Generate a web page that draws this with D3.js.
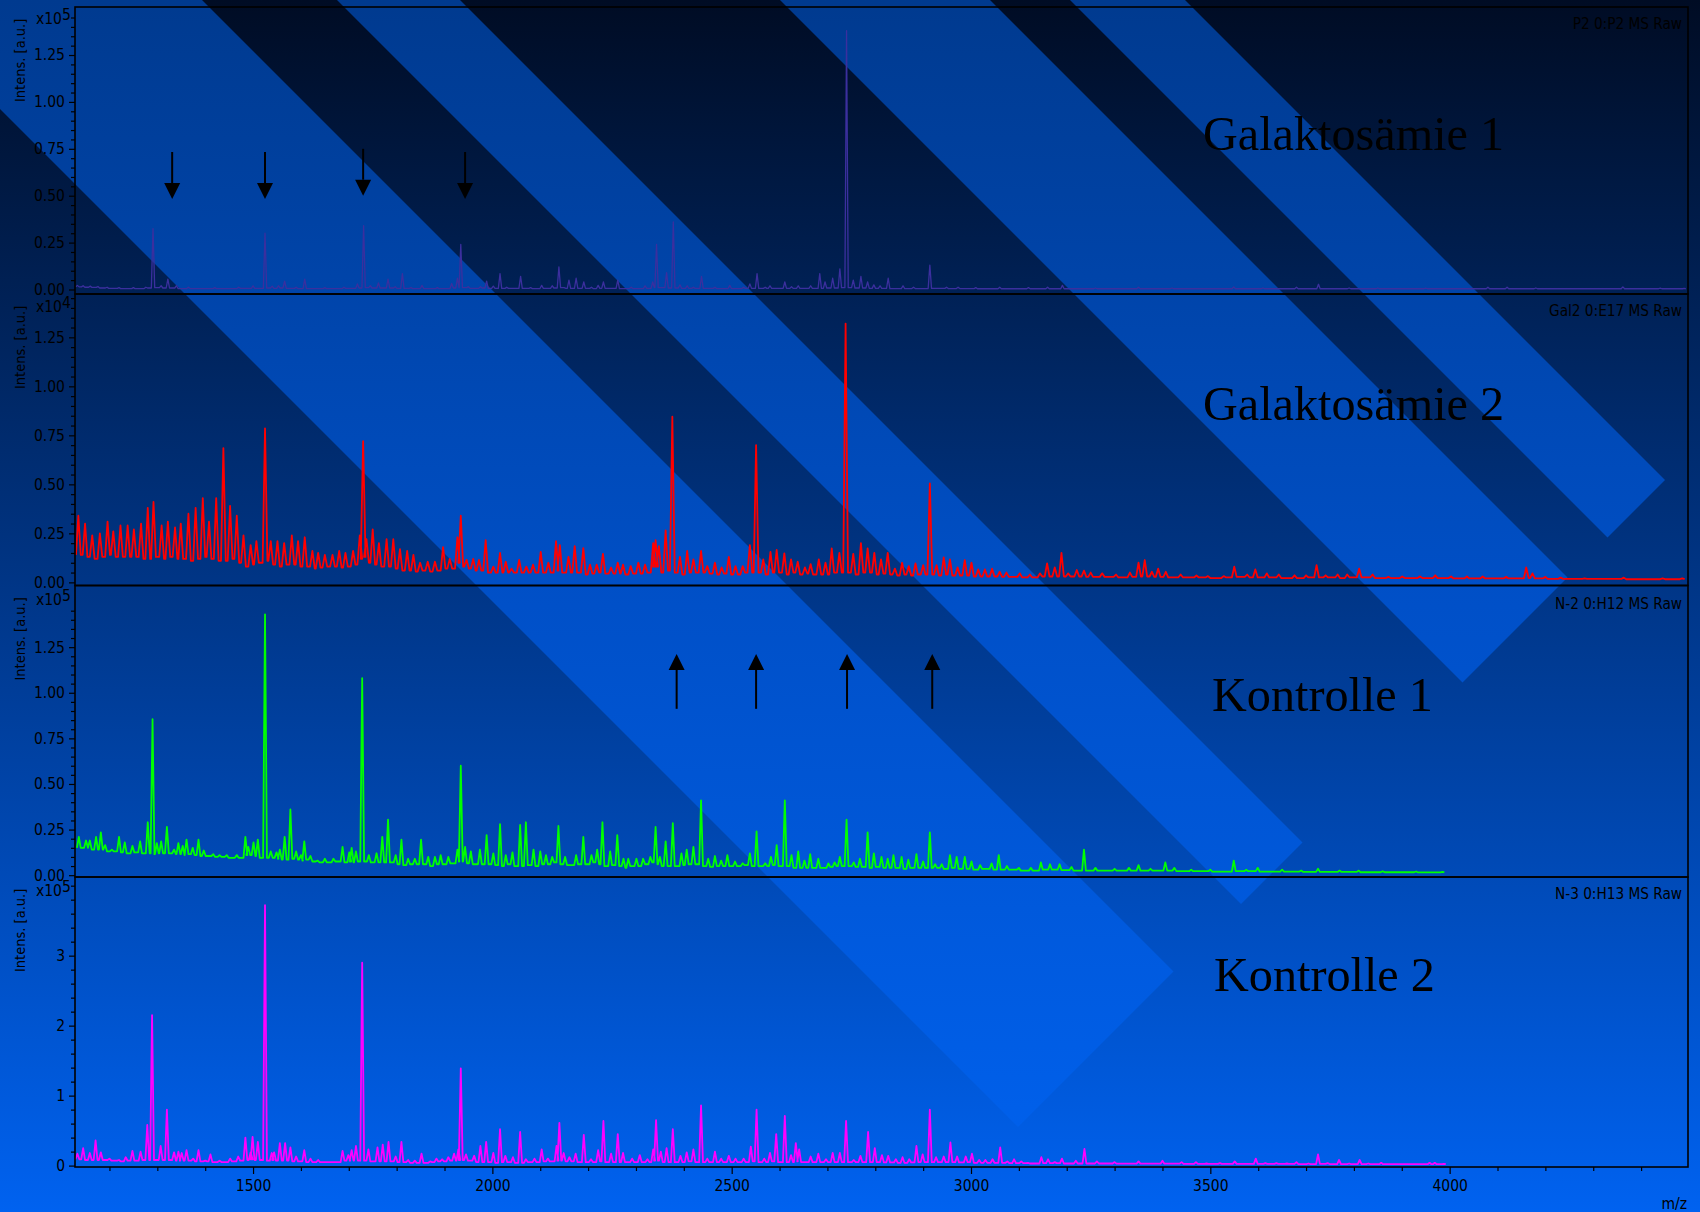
<!DOCTYPE html>
<html>
<head>
<meta charset="utf-8">
<script src="https://cdn.jsdelivr.net/npm/d3@7"></script>
<style>
  html, body { margin: 0; padding: 0; background: #0062f0; overflow: hidden; }
  svg { display: block; }
  text { font-family: "DejaVu Sans", sans-serif; font-stretch: condensed; fill: #000; }
  .big { font-family: "Liberation Serif", serif; font-stretch: normal; font-size: 48.2px; }
</style>
</head>
<body>
<div id="chart"></div>
<script>
// spectra: [m/z, peak top, floor after the peak], intensities in axis units
const gal1Peaks = [
  [1133,.022,.014],[1145,.02,.012],[1160,.018,.011],[1176,.016,.008],[1195,.012,.006],[1220,.01,.005],[1250,.01,.005],
  [1276,.012,.008],[1291,.325,.01],[1308,.02,.008],[1322,.055,.008],[1340,.02,.005],[1365,.012,.005],[1420,.01,.005],
  [1470,.012,.006],[1500,.02,.006],[1525,.3,.008],[1540,.018,.006],[1553,.02,.008],[1566,.045,.006],[1590,.012,.005],
  [1608,.055,.005],[1650,.01,.005],[1690,.012,.006],[1718,.03,.008],[1731,.34,.01],[1745,.02,.008],[1762,.035,.008],
  [1782,.055,.008],[1797,.015,.006],[1812,.085,.006],[1830,.01,.005],[1853,.022,.005],[1885,.01,.005],[1915,.032,.008],
  [1927,.06,.01],[1934,.24,.01],[1950,.015,.006],[1975,.015,.008],[1988,.045,.006],[2002,.018,.006],[2016,.085,.006],
  [2030,.012,.006],[2059,.07,.006],[2080,.01,.005],[2103,.022,.006],[2125,.02,.008],[2139,.12,.01],[2150,.01,.006],
  [2160,.05,.006],[2175,.06,.006],[2191,.04,.006],[2207,.012,.005],[2221,.022,.006],[2232,.04,.006],[2262,.05,.005],
  [2290,.012,.005],[2319,.02,.006],[2335,.04,.01],[2343,.24,.01],[2364,.09,.008],[2378,.36,.008],[2392,.025,.006],
  [2407,.02,.006],[2420,.012,.006],[2437,.07,.006],[2465,.012,.005],[2496,.022,.005],[2525,.012,.006],[2538,.03,.006],
  [2553,.085,.006],[2570,.012,.006],[2580,.02,.006],[2611,.04,.006],[2625,.015,.006],[2639,.02,.006],[2665,.02,.006],
  [2684,.085,.006],[2695,.04,.008],[2711,.06,.008],[2726,.11,.01],[2740,1.38,.01],[2754,.05,.008],[2770,.07,.008],
  [2784,.04,.006],[2797,.025,.006],[2810,.02,.006],[2827,.06,.005],[2858,.02,.005],[2880,.012,.005],[2914,.13,.006],
  [2949,.012,.005],[2973,.012,.005],[3010,.01,.004],[3060,.012,.004],[3120,.01,.004],[3160,.012,.004],[3191,.022,.004],
  [3260,.008,.004],[3350,.012,.004],[3420,.008,.004],[3549,.014,.004],[3610,.008,.004],[3680,.012,.004],[3726,.028,.004],
  [3790,.008,.004],[3850,.008,.004],[3950,.007,.004],[4080,.012,.004],[4120,.012,.004],[4180,.008,.004],[4362,.014,.004],
  [4440,.007,.004],[4490,.006,.004]
];
const gal2Peaks = [
  [1135,.34,.14],[1149,.30,.13],[1164,.24,.12],[1180,.25,.13],[1196,.31,.14],[1208,.26,.13],[1223,.29,.13],[1238,.29,.13],
  [1251,.27,.13],[1266,.30,.12],[1280,.38,.12],[1292,.41,.13],[1309,.29,.12],[1322,.31,.13],[1337,.28,.12],[1349,.30,.12],
  [1365,.35,.11],[1380,.38,.12],[1395,.43,.13],[1408,.31,.12],[1423,.43,.11],[1438,.685,.11],[1452,.39,.12],[1466,.34,.10],
  [1480,.24,.08],[1495,.19,.09],[1507,.21,.10],[1525,.785,.11],[1537,.21,.09],[1551,.21,.08],[1565,.20,.09],[1581,.24,.09],
  [1594,.21,.08],[1608,.23,.08],[1624,.16,.07],[1636,.15,.075],[1650,.14,.08],[1666,.14,.08],[1680,.16,.075],[1693,.15,.08],
  [1709,.16,.09],[1723,.24,.12],[1730,.72,.13],[1737,.22,.10],[1750,.27,.09],[1763,.20,.08],[1779,.22,.08],[1793,.22,.07],
  [1807,.17,.06],[1822,.16,.06],[1835,.14,.055],[1849,.10,.06],[1865,.105,.055],[1880,.105,.06],[1897,.18,.07],[1911,.12,.07],
  [1927,.23,.10],[1934,.34,.08],[1946,.115,.07],[1960,.12,.06],[1972,.115,.06],[1986,.215,.05],[2002,.08,.05],[2016,.15,.05],
  [2028,.105,.05],[2040,.07,.05],[2056,.115,.05],[2071,.08,.05],[2085,.09,.05],[2101,.155,.05],[2117,.10,.05],[2133,.21,.06],
  [2141,.19,.05],[2159,.13,.05],[2172,.185,.05],[2190,.175,.04],[2204,.09,.045],[2218,.09,.05],[2231,.145,.045],[2248,.076,.045],
  [2262,.10,.045],[2273,.09,.04],[2289,.083,.045],[2305,.10,.045],[2319,.09,.05],[2336,.20,.08],[2341,.215,.08],[2348,.185,.05],
  [2362,.265,.06],[2376,.845,.05],[2392,.13,.04],[2407,.16,.05],[2420,.117,.05],[2436,.16,.05],[2449,.083,.045],[2465,.10,.04],
  [2479,.076,.045],[2494,.13,.04],[2508,.083,.04],[2523,.083,.05],[2538,.19,.05],[2551,.70,.05],[2566,.117,.04],[2581,.156,.05],
  [2594,.165,.05],[2610,.148,.04],[2624,.117,.05],[2638,.105,.04],[2653,.076,.045],[2665,.093,.04],[2682,.117,.04],[2696,.10,.04],
  [2709,.173,.05],[2725,.15,.05],[2738,1.32,.05],[2754,.145,.04],[2770,.20,.05],[2784,.173,.05],[2798,.15,.04],[2812,.117,.045],
  [2826,.15,.04],[2841,.07,.035],[2856,.10,.04],[2870,.083,.035],[2884,.097,.04],[2900,.088,.04],[2914,.505,.04],[2928,.088,.035],
  [2943,.127,.04],[2956,.117,.035],[2972,.076,.035],[2987,.114,.035],[3001,.10,.03],[3015,.066,.03],[3029,.066,.03],[3044,.07,.03],
  [3060,.054,.028],[3074,.05,.028],[3102,.046,.025],[3123,.04,.025],[3144,.046,.03],[3159,.097,.03],[3175,.076,.03],[3189,.15,.03],
  [3203,.046,.03],[3221,.063,.03],[3236,.06,.028],[3250,.05,.028],[3274,.046,.028],[3303,.04,.025],[3332,.05,.028],[3350,.10,.03],
  [3363,.114,.03],[3378,.054,.028],[3391,.07,.028],[3407,.054,.025],[3438,.04,.025],[3471,.035,.025],[3495,.032,.022],[3528,.032,.025],
  [3550,.08,.028],[3577,.04,.025],[3594,.066,.025],[3618,.046,.025],[3643,.04,.022],[3676,.036,.022],[3700,.036,.025],[3722,.088,.025],
  [3741,.036,.025],[3766,.04,.022],[3786,.04,.025],[3811,.07,.025],[3839,.04,.022],[3872,.028,.022],[3901,.03,.022],[3938,.03,.022],
  [3970,.036,.022],[4003,.03,.02],[4036,.03,.02],[4069,.03,.02],[4118,.028,.02],[4160,.076,.022],[4173,.046,.02],[4200,.028,.018],
  [4232,.024,.018],[4282,.02,.018],[4364,.024,.016],[4445,.02,.016],[4486,.02,.016]
];
const ctrl1Peaks = [
  [1136,.21,.15],[1151,.19,.15],[1159,.19,.14],[1172,.21,.14],[1182,.235,.14],[1191,.165,.13],[1205,.14,.13],[1220,.21,.125],
  [1232,.18,.12],[1248,.16,.125],[1264,.185,.12],[1280,.29,.12],[1290,.855,.115],[1299,.175,.12],[1308,.185,.12],[1320,.265,.12],
  [1335,.14,.115],[1344,.175,.115],[1353,.16,.11],[1361,.195,.115],[1374,.15,.11],[1386,.195,.105],[1397,.135,.105],[1417,.115,.1],
  [1430,.11,.1],[1445,.11,.095],[1466,.11,.095],[1484,.21,.11],[1490,.155,.11],[1501,.18,.105],[1510,.195,.095],[1525,1.43,.095],
  [1537,.13,.095],[1549,.125,.09],[1556,.14,.085],[1566,.21,.085],[1578,.36,.09],[1590,.13,.085],[1600,.11,.08],[1607,.185,.085],
  [1620,.105,.075],[1635,.08,.07],[1650,.09,.07],[1668,.09,.075],[1687,.155,.07],[1701,.125,.075],[1706,.15,.07],[1715,.13,.075],
  [1728,1.08,.075],[1742,.11,.07],[1758,.12,.07],[1770,.21,.07],[1782,.305,.07],[1798,.11,.06],[1810,.195,.055],[1824,.09,.06],
  [1838,.09,.06],[1851,.195,.06],[1866,.10,.05],[1880,.10,.06],[1892,.11,.06],[1908,.10,.065],[1927,.14,.075],[1934,.60,.075],
  [1943,.155,.065],[1955,.13,.06],[1974,.14,.06],[1988,.22,.06],[2002,.12,.055],[2016,.28,.05],[2028,.11,.06],[2042,.125,.05],
  [2058,.275,.05],[2070,.29,.055],[2086,.14,.05],[2100,.13,.06],[2112,.11,.06],[2125,.10,.07],[2138,.27,.06],[2152,.10,.055],
  [2175,.11,.06],[2190,.21,.06],[2207,.11,.07],[2219,.14,.06],[2230,.29,.05],[2246,.13,.055],[2261,.22,.05],[2274,.09,.04],
  [2284,.09,.05],[2301,.09,.05],[2315,.09,.06],[2330,.10,.07],[2341,.265,.06],[2350,.10,.05],[2362,.185,.05],[2377,.285,.05],
  [2395,.12,.055],[2406,.14,.06],[2420,.155,.06],[2436,.41,.05],[2451,.09,.045],[2465,.105,.05],[2478,.08,.05],[2491,.11,.05],
  [2507,.075,.05],[2523,.065,.055],[2538,.12,.05],[2552,.24,.05],[2570,.065,.05],[2582,.10,.055],[2594,.165,.05],[2611,.41,.05],
  [2625,.11,.04],[2639,.13,.04],[2652,.08,.04],[2664,.115,.04],[2681,.09,.04],[2702,.065,.045],[2715,.07,.05],[2726,.10,.05],
  [2740,.305,.05],[2755,.07,.045],[2768,.09,.045],[2784,.235,.04],[2797,.12,.045],[2813,.10,.04],[2826,.09,.04],[2838,.11,.04],
  [2855,.10,.035],[2869,.085,.04],[2886,.115,.04],[2900,.075,.04],[2914,.235,.04],[2925,.06,.04],[2939,.06,.035],[2956,.11,.04],
  [2970,.10,.035],[2987,.10,.035],[3001,.075,.03],[3019,.055,.035],[3043,.065,.03],[3058,.11,.03],[3075,.05,.03],[3100,.04,.025],
  [3125,.04,.025],[3146,.07,.03],[3165,.06,.03],[3185,.06,.028],[3210,.045,.025],[3236,.14,.025],[3260,.04,.025],[3300,.035,.025],
  [3330,.04,.025],[3350,.055,.025],[3375,.035,.025],[3406,.07,.025],[3425,.04,.022],[3460,.03,.022],[3500,.03,.02],[3549,.08,.022],
  [3575,.03,.022],[3599,.04,.02],[3650,.03,.02],[3690,.025,.018],[3725,.035,.018],[3770,.025,.018],[3810,.025,.016],[3860,.022,.016],
  [3930,.02,.015],[3985,.018,.015]
];
const ctrl2Peaks = [
  [1133,.17,.09],[1145,.25,.08],[1159,.18,.08],[1171,.36,.08],[1182,.19,.08],[1200,.10,.07],[1220,.08,.06],[1234,.12,.07],
  [1248,.21,.07],[1265,.20,.08],[1279,.58,.08],[1289,2.15,.08],[1307,.28,.08],[1320,.80,.08],[1335,.19,.07],[1344,.20,.07],
  [1351,.18,.07],[1361,.22,.07],[1375,.10,.06],[1386,.22,.06],[1400,.07,.06],[1411,.16,.05],[1430,.07,.05],[1452,.10,.06],
  [1469,.13,.07],[1484,.40,.08],[1495,.19,.09],[1499,.41,.08],[1510,.34,.08],[1525,3.72,.07],[1539,.18,.08],[1544,.19,.07],
  [1556,.32,.07],[1567,.32,.07],[1578,.26,.06],[1590,.13,.06],[1607,.22,.05],[1620,.10,.05],[1636,.08,.05],[1660,.05,.05],
  [1687,.21,.07],[1699,.15,.07],[1706,.22,.07],[1715,.28,.07],[1728,2.90,.07],[1741,.23,.06],[1760,.26,.06],[1771,.30,.06],
  [1783,.34,.06],[1798,.13,.05],[1810,.34,.05],[1824,.08,.04],[1838,.07,.04],[1852,.17,.04],[1870,.06,.05],[1883,.10,.06],
  [1895,.09,.06],[1908,.12,.07],[1920,.17,.07],[1929,.23,.08],[1934,1.39,.08],[1945,.16,.07],[1962,.14,.05],[1975,.28,.05],
  [1987,.34,.05],[2002,.18,.04],[2016,.52,.05],[2027,.14,.05],[2043,.12,.04],[2058,.48,.04],[2070,.09,.05],[2088,.10,.05],
  [2103,.23,.06],[2116,.10,.06],[2134,.28,.07],[2140,.61,.07],[2149,.18,.06],[2161,.12,.06],[2174,.17,.05],[2191,.44,.05],
  [2206,.09,.05],[2221,.22,.06],[2232,.64,.05],[2248,.17,.05],[2262,.45,.05],[2273,.18,.05],[2292,.10,.05],[2308,.15,.05],
  [2324,.09,.05],[2336,.23,.07],[2342,.65,.07],[2352,.20,.05],[2364,.25,.05],[2377,.52,.05],[2393,.14,.05],[2406,.19,.06],
  [2420,.23,.05],[2436,.86,.05],[2449,.10,.05],[2465,.20,.05],[2478,.10,.05],[2494,.14,.05],[2508,.10,.05],[2525,.10,.05],
  [2540,.27,.06],[2552,.80,.05],[2568,.10,.05],[2580,.18,.06],[2593,.45,.05],[2611,.71,.05],[2624,.15,.05],[2634,.32,.06],
  [2641,.23,.05],[2665,.13,.05],[2681,.17,.05],[2697,.09,.05],[2711,.18,.05],[2726,.18,.05],[2739,.64,.05],[2755,.08,.05],
  [2769,.14,.05],[2785,.48,.05],[2799,.25,.05],[2814,.15,.045],[2827,.14,.045],[2843,.09,.04],[2857,.12,.04],[2871,.09,.045],
  [2886,.28,.05],[2899,.16,.05],[2914,.80,.05],[2927,.12,.05],[2943,.13,.05],[2957,.33,.05],[2971,.13,.045],[2989,.13,.05],
  [3002,.17,.04],[3017,.08,.04],[3030,.08,.04],[3045,.09,.04],[3061,.26,.04],[3076,.06,.035],[3090,.09,.035],[3105,.06,.035],
  [3119,.04,.03],[3147,.12,.035],[3161,.09,.035],[3175,.05,.035],[3190,.10,.03],[3219,.07,.03],[3237,.24,.03],[3263,.06,.03],
  [3300,.05,.028],[3350,.06,.028],[3400,.07,.028],[3440,.05,.025],[3470,.05,.025],[3492,.03,.025],[3520,.035,.025],[3551,.06,.025],
  [3595,.10,.025],[3615,.035,.025],[3638,.035,.025],[3660,.03,.025],[3680,.05,.022],[3705,.03,.022],[3725,.16,.025],[3745,.035,.022],
  [3769,.08,.022],[3790,.03,.022],[3812,.08,.022],[3830,.03,.02],[3857,.04,.02],[3958,.04,.02],[3969,.04,.02],[3988,.025,.02]
];

// axes, in axis units
const xMajor = [1500, 2000, 2500, 3000, 3500, 4000];
const xMinor = [1200, 1300, 1400, 1600, 1700, 1800, 1900, 2100, 2200, 2300, 2400, 2600, 2700, 2800, 2900,
  3100, 3200, 3300, 3400, 3600, 3700, 3800, 3900, 4100, 4200, 4300, 4400];
const yMajorFine = [0, .25, .5, .75, 1, 1.25];
const yMinorFine = [.05, .1, .15, .2, .3, .35, .4, .45, .55, .6, .65, .7, .8, .85, .9, .95, 1.05, 1.1, 1.15, 1.2, 1.3, 1.35, 1.4, 1.45];
const yMajorCoarse = [0, 1, 2, 3];
const yMinorCoarse = [.2, .4, .6, .8, 1.2, 1.4, 1.6, 1.8, 2.2, 2.4, 2.6, 2.8, 3.2, 3.4, 3.6, 3.8, 4];

const panelNames = ["Galaktosämie 1", "Galaktosämie 2", "Kontrolle 1", "Kontrolle 2"];
const panelRaw = ["P2 0:P2 MS Raw", "Gal2 0:E17 MS Raw", "N-2 0:H12 MS Raw", "N-3 0:H13 MS Raw"];
const panelExp = ["5", "4", "5", "5"];

// arrow marks, m/z and intensity of tip and tail
const downArrows = [[1331, .482, .733], [1525, .482, .733], [1730, .5, .75], [1943, .482, .733]];
const upArrows = [[2385, 1.213, .912], [2551, 1.213, .912], [2741, 1.213, .912], [2919, 1.213, .912]];

const W = 1700, H = 1212;
const plotL = 75, plotR = 1688;

const panels = [
  { top: 7,   bottom: 294,  lo: -.024, hi: 1.506, peaks: gal1Peaks,  color: "#3b2f9e", lw: 1.3, foot: 3.5, fine: true,  nameX: 1203, nameY: 150, rawY: 29 },
  { top: 294, bottom: 585.5, lo: -.016, hi: 1.471, peaks: gal2Peaks,  color: "#ff0000", lw: 1.8, foot: 5, fine: true,  nameX: 1203, nameY: 420, rawY: 316 },
  { top: 585.5, bottom: 877, lo: -.01, hi: 1.588, peaks: ctrl1Peaks, color: "#00ff00", lw: 1.8, foot: 4, fine: true,  nameX: 1212, nameY: 711, rawY: 609 },
  { top: 877, bottom: 1167, lo: -.02, hi: 4.124, peaks: ctrl2Peaks, color: "#ff00ff", lw: 1.8, foot: 4, fine: false, nameX: 1214, nameY: 991, rawY: 899 }
];

const svg = d3.select("#chart").append("svg").attr("width", W).attr("height", H);

// background gradients
const defs = svg.append("defs");
function vGrad(id, stops) {
  const g = defs.append("linearGradient").attr("id", id)
    .attr("gradientUnits", "userSpaceOnUse").attr("x1", 0).attr("y1", 0).attr("x2", 0).attr("y2", H);
  stops.forEach(s => g.append("stop").attr("offset", s[0]).attr("stop-color", s[1]));
}
vGrad("bgDark", [[0, "#000c24"], [1, "#0062f0"]]);
vGrad("bgBand", [[0, "#003a8f"], [.5, "#0050c8"], [1, "#0062f0"]]);

svg.append("rect").attr("width", W).attr("height", H).attr("fill", "url(#bgDark)");

// diagonal bands: y-x of lower and upper edge, all cut by the line x+y=bandEnd
const bandEdges = [[109, -202], [-337, -460], [-780, -990], [-1070, -1185]];
const bandEnd = 2145;
const onDiag = (sum, diff) => [(sum - diff) / 2, (sum + diff) / 2];
svg.selectAll("polygon.band").data(bandEdges).enter().append("polygon")
  .attr("class", "band")
  .attr("fill", "url(#bgBand)")
  .attr("points", d => [onDiag(-300, d[0]), onDiag(bandEnd, d[0]), onDiag(bandEnd, d[1]), onDiag(-300, d[1])].join(" "));

const x = d3.scaleLinear().domain([1128, 4498]).range([plotL, plotR]);
const line = d3.line().x(d => x(d[0])).y(d => d[1]);

panels.forEach((p, i) => {
  const y = d3.scaleLinear().domain([p.lo, p.hi]).range([p.bottom, p.top]);
  const g = svg.append("g");
  const clipId = "clip" + i;
  defs.append("clipPath").attr("id", clipId).append("rect")
    .attr("x", plotL).attr("y", p.top).attr("width", plotR - plotL).attr("height", p.bottom - p.top);

  // spectrum
  const pts = [];
  p.peaks.forEach((d, k) => {
    const prev = k === 0 ? d[2] : p.peaks[k - 1][2];
    pts.push([d[0] - p.foot, y(prev)], [d[0], y(d[1])], [d[0] + p.foot, y(d[2])]);
  });
  g.append("path")
    .attr("clip-path", `url(#${clipId})`)
    .attr("d", line(pts))
    .attr("fill", "none")
    .attr("stroke", p.color)
    .attr("stroke-width", p.lw)
    .attr("stroke-linejoin", "round");

  // frame
  g.append("rect").attr("x", plotL).attr("y", p.top).attr("width", plotR - plotL).attr("height", p.bottom - p.top)
    .attr("fill", "none").attr("stroke", "#000").attr("stroke-width", 1.6);

  // y axis
  const major = p.fine ? yMajorFine : yMajorCoarse;
  const minor = p.fine ? yMinorFine : yMinorCoarse;
  const fmt = p.fine ? d3.format(".2f") : d3.format("d");
  const axMajor = g.append("g").attr("transform", `translate(${plotL},0)`)
    .call(d3.axisLeft(y).tickValues(major).tickFormat(fmt).tickSize(6).tickPadding(4));
  const axMinor = g.append("g").attr("transform", `translate(${plotL},0)`)
    .call(d3.axisLeft(y).tickValues(minor).tickFormat("").tickSize(4));
  [axMajor, axMinor].forEach(a => { a.select(".domain").remove(); a.selectAll("line").attr("stroke", "#000").attr("stroke-width", 1.2); });
  axMajor.selectAll("text").attr("font-family", null).style("font-size", "15.5px");

  // y title, exponent and spectrum name
  g.append("text").attr("transform", `translate(25,${p.top + 95}) rotate(-90)`)
    .style("font-size", "14.5px").text("Intens. [a.u.]");
  const expText = g.append("text").attr("x", 36).attr("y", p.top + (i === 1 ? 18 : i === 0 ? 17 : 19))
    .style("font-size", "15.5px").text("x10");
  expText.append("tspan").attr("dy", -4).text(panelExp[i]);
  g.append("text").attr("x", plotR - 6).attr("y", p.rawY).attr("text-anchor", "end")
    .style("font-size", "15.2px").text(panelRaw[i]);
  g.append("text").attr("class", "big").attr("x", p.nameX).attr("y", p.nameY).text(panelNames[i]);

  p.y = y;
});

// x axis under the last panel
const xg = svg.append("g").attr("transform", `translate(0,${panels[3].bottom})`);
const axMaj = xg.append("g").call(d3.axisBottom(x).tickValues(xMajor).tickFormat(d3.format("d")).tickSize(7).tickPadding(6));
const axMin = xg.append("g").call(d3.axisBottom(x).tickValues(xMinor).tickFormat("").tickSize(4));
[axMaj, axMin].forEach(a => { a.select(".domain").remove(); a.selectAll("line").attr("stroke", "#000").attr("stroke-width", 1.2); });
axMaj.selectAll("text").attr("font-family", null).style("font-size", "15.5px");
svg.append("text").attr("x", plotR - 1).attr("y", H - 3).attr("text-anchor", "end").style("font-size", "15.5px").text("m/z");

// arrows
function drawArrow(d, panel) {
  const ax = x(d[0]), tip = panel.y(d[1]), tail = panel.y(d[2]);
  const dir = tail < tip ? -1 : 1;
  const base = tip + dir * 16;
  svg.append("line").attr("x1", ax).attr("x2", ax).attr("y1", tail).attr("y2", base)
    .attr("stroke", "#000").attr("stroke-width", 2);
  svg.append("polygon").attr("points", [[ax, tip], [ax - 8, base], [ax + 8, base]].join(" ")).attr("fill", "#000");
}
downArrows.forEach(d => drawArrow(d, panels[0]));
upArrows.forEach(d => drawArrow(d, panels[2]));
</script>
</body>
</html>
